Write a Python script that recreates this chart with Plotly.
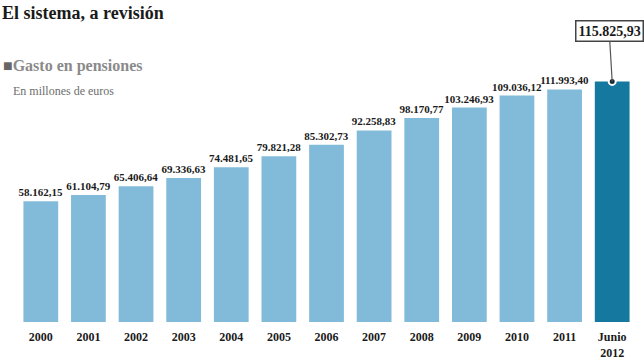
import plotly.graph_objects as go

categories = ["2000", "2001", "2002", "2003", "2004", "2005", "2006",
              "2007", "2008", "2009", "2010", "2011", "Junio<br>2012"]
values = [58162.15, 61104.79, 65406.64, 69336.63, 74481.65, 79821.28, 85302.73,
          92258.83, 98170.77, 103246.93, 109036.12, 111993.40, 115825.93]
value_labels = ["58.162,15", "61.104,79", "65.406,64", "69.336,63", "74.481,65",
                "79.821,28", "85.302,73", "92.258,83", "98.170,77", "103.246,93",
                "109.036,12", "111.993,40", "115.825,93"]

light = "#82bbd9"
dark = "#15799f"
colors = [light] * (len(values) - 1) + [dark]
bar_text = value_labels[:-1] + [""]

serif = "Liberation Serif"
W, H = 644, 362
ML, MR, MT, MB = 17, 8, 52, 40
PW, PH = W - ML - MR, H - MT - MB

fig = go.Figure()
fig.add_trace(go.Bar(
    x=categories, y=values, marker=dict(color=colors, line=dict(width=0)),
    text=bar_text, textposition="outside", constraintext="none", cliponaxis=False,
    textfont=dict(family=serif, size=11, color="#1a1a1a", weight="bold"),
    hoverinfo="skip",
))
fig.add_trace(go.Scatter(
    x=[categories[-1]], y=[values[-1]], mode="markers", cliponaxis=False,
    marker=dict(size=7, color="#1c2b3a", line=dict(width=2, color="white")),
    hoverinfo="skip",
))

fig.add_annotation(
    x=categories[-1], y=values[-1], xref="x", yref="y",
    text="<b>" + value_labels[-1] + "</b>", showarrow=True, arrowhead=0,
    arrowwidth=1.2, arrowcolor="#555", ax=-3, ay=-50,
    font=dict(family=serif, size=14, color="#1a1a1a"),
    bordercolor="#444", borderwidth=1.5, borderpad=2, bgcolor="white",
)

headers = [
    ("<b>El sistema, a revisión</b>", 0, 13, 18, "#1a1a1a"),
    ("<span style='color:#666'>■</span><b>Gasto en pensiones</b>", 1, 66, 16, "#8a8a8a"),
    ("En millones de euros", 11, 91, 12, "#6e6e6e"),
]
for text, px, py, size, color in headers:
    fig.add_annotation(
        x=(px - ML) / PW, y=(H - MB - py) / PH, xref="paper", yref="paper",
        xanchor="left", yanchor="middle", showarrow=False, text=text,
        font=dict(family=serif, size=size, color=color),
    )

fig.update_layout(
    width=W, height=H,
    margin=dict(l=ML, r=MR, t=MT, b=MB, autoexpand=False),
    paper_bgcolor="white", plot_bgcolor="white",
    showlegend=False, bargap=0.27,
    xaxis=dict(showgrid=False, zeroline=False, showline=False,
               range=[-0.5, len(categories) - 0.5],
               ticks="outside", ticklen=4, tickcolor="rgba(0,0,0,0)",
               automargin=False,
               tickfont=dict(family=serif, size=12, color="#1a1a1a", weight="bold")),
    yaxis=dict(range=[0, 130000], visible=False, automargin=False),
)

fig.write_html("out.html", config={"displayModeBar": False},
               post_script="document.body.style.margin='0';document.body.style.overflow='hidden';")
